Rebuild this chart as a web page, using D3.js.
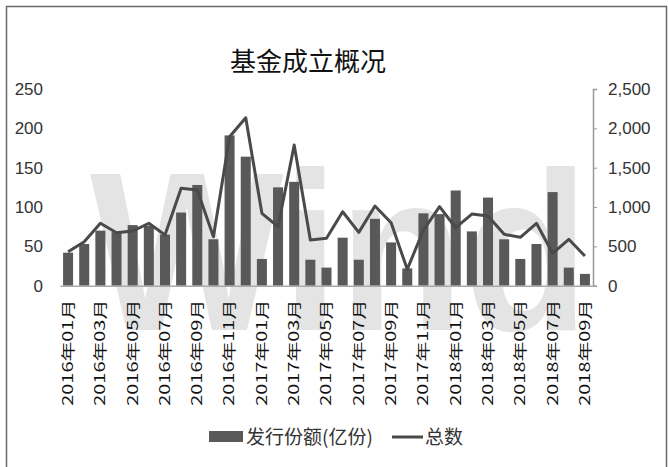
<!DOCTYPE html>
<html>
<head>
<meta charset="utf-8">
<script src="https://cdn.jsdelivr.net/npm/d3@7"></script>
<style>
  body { margin: 0; background: #fff; }
</style>
</head>
<body>
<div id="chart"></div>
<script>

// months, every one of them; axis only labels every other
var months = [
  "2016年01月","2016年02月","2016年03月","2016年04月","2016年05月","2016年06月",
  "2016年07月","2016年08月","2016年09月","2016年10月","2016年11月","2016年12月",
  "2017年01月","2017年02月","2017年03月","2017年04月","2017年05月","2017年06月",
  "2017年07月","2017年08月","2017年09月","2017年10月","2017年11月","2017年12月",
  "2018年01月","2018年02月","2018年03月","2018年04月","2018年05月","2018年06月",
  "2018年07月","2018年08月","2018年09月"
];

// 发行份额(亿份) - left axis
var amounts = [
  42, 53, 70, 68, 77, 76, 65, 93, 128, 59, 191, 164,
  34, 125, 132, 33, 23, 61, 33, 85, 55, 22, 92, 91,
  121, 69, 112, 59, 34, 53, 119, 23, 15
];

// 总数 - right axis
var totals = [
  432, 559, 793, 673, 695, 793, 644, 1238, 1216, 623, 1893, 2135,
  920, 750, 1788, 581, 602, 940, 678, 1013, 800, 208, 707, 1004,
  737, 911, 886, 653, 615, 793, 412, 590, 377
];

var leftTicks = [0, 50, 100, 150, 200, 250];
var rightTicks = [0, 500, 1000, 1500, 2000, 2500];

var width = 669, height = 467;
var margin = {top: 89, right: 76, bottom: 181.3, left: 60};

var svg = d3.select("#chart").append("svg")
  .attr("width", width)
  .attr("height", height)
  .style("font-family", "'Noto Sans CJK SC', 'Liberation Sans', sans-serif");

// frame
svg.append("rect")
  .attr("x", 6.5).attr("y", 6.5)
  .attr("width", 660).attr("height", 470)
  .attr("fill", "none")
  .attr("stroke", "#6a6a6a")
  .attr("stroke-width", 1.5);

var x = d3.scaleBand()
  .domain(months)
  .range([margin.left, width - margin.right])
  .paddingInner(0.38)
  .paddingOuter(0.19);

var yL = d3.scaleLinear()
  .domain([0, 250])
  .range([height - margin.bottom, margin.top]);

var yR = d3.scaleLinear()
  .domain([0, 2500])
  .range([height - margin.bottom, margin.top]);

// wind watermark (scaled with a transform so its box is its real size)
svg.append("text")
  .attr("transform", "translate(90,330) scale(2.05,2.27)")
  .style("font-family", "'Liberation Sans', sans-serif")
  .style("font-weight", "bold")
  .style("font-size", "100px")
  .attr("fill", "#e4e4e4")
  .text("Wind");

// title
svg.append("text")
  .attr("x", 308)
  .attr("y", 71)
  .attr("text-anchor", "middle")
  .style("font-size", "26px")
  .attr("fill", "#111")
  .text("基金成立概况");

// left axis (labels only)
var gL = svg.append("g")
  .attr("transform", "translate(" + margin.left + ",0)")
  .call(d3.axisLeft(yL).tickValues(leftTicks).tickSize(0).tickPadding(17));
gL.select(".domain").remove();
gL.selectAll("text")
  .style("font-family", "'Liberation Sans', sans-serif")
  .style("font-size", "17px")
  .attr("fill", "#333");

// right axis
var gR = svg.append("g")
  .attr("transform", "translate(" + (width - margin.right) + ",0)")
  .call(d3.axisRight(yR).tickValues(rightTicks).tickSize(4).tickPadding(11)
    .tickFormat(d3.format(",")));
gR.select(".domain").attr("stroke", "#999").attr("stroke-width", 1.5);
gR.selectAll(".tick line").attr("stroke", "#999");
gR.selectAll("text")
  .style("font-family", "'Liberation Sans', sans-serif")
  .style("font-size", "17px")
  .attr("fill", "#333");

// bars
svg.append("g")
  .selectAll("rect")
  .data(amounts)
  .enter()
  .append("rect")
  .attr("x", function(d, i) { return x(months[i]); })
  .attr("y", function(d) { return yL(d); })
  .attr("width", x.bandwidth())
  .attr("height", function(d) { return yL(0) - yL(d); })
  .attr("fill", "#595959");

// x axis
var gX = svg.append("g")
  .attr("transform", "translate(0," + yL(0) + ")")
  .call(d3.axisBottom(x)
    .tickValues(months.filter(function(d, i) { return i % 2 == 0; }))
    .tickSize(0));
gX.select(".domain").attr("stroke", "#aaa").attr("stroke-width", 1.5);
gX.selectAll("text")
  .attr("transform", "rotate(-90)")
  .attr("text-anchor", "end")
  .attr("x", -14)
  .attr("y", 0)
  .attr("dy", "0.35em")
  .attr("textLength", 106)
  .attr("lengthAdjust", "spacingAndGlyphs")
  .style("font-family", "'Noto Sans CJK SC', sans-serif")
  .style("font-size", "14px")
  .attr("fill", "#111");

// line
var line = d3.line()
  .x(function(d, i) { return x(months[i]) + x.bandwidth() / 2; })
  .y(function(d) { return yR(d); });

svg.append("path")
  .datum(totals)
  .attr("fill", "none")
  .attr("stroke", "#4a4a4a")
  .attr("stroke-width", 3)
  .attr("stroke-linejoin", "round")
  .attr("d", line);

// legend
var lg = svg.append("g");
lg.append("rect")
  .attr("x", 209).attr("y", 431)
  .attr("width", 34).attr("height", 11)
  .attr("fill", "#595959");
lg.append("text")
  .attr("x", 246).attr("y", 444)
  .style("font-size", "19px")
  .attr("fill", "#333")
  .text("发行份额(亿份)");
lg.append("line")
  .attr("x1", 392).attr("x2", 423)
  .attr("y1", 437).attr("y2", 437)
  .attr("stroke", "#4a4a4a")
  .attr("stroke-width", 3);
lg.append("text")
  .attr("x", 425).attr("y", 444)
  .style("font-size", "19px")
  .attr("fill", "#333")
  .text("总数");

</script>
</body>
</html>
